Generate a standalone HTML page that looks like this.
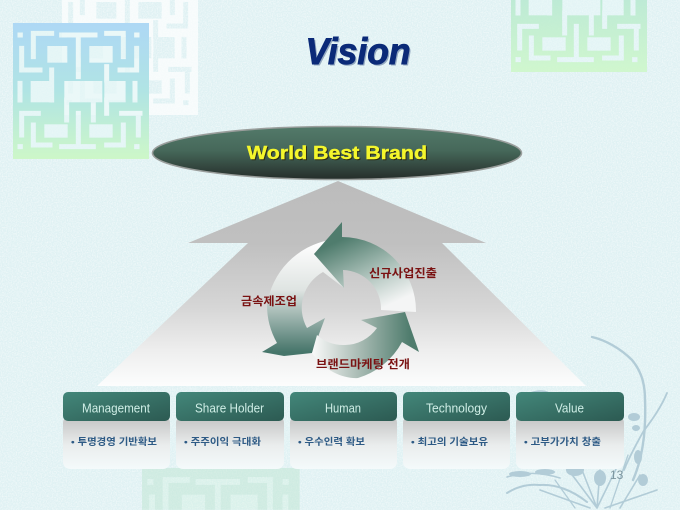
<!DOCTYPE html>
<html><head><meta charset="utf-8"><style>
html,body{margin:0;padding:0;width:680px;height:510px;overflow:hidden;background:#e2f3f5}
svg{display:block;overflow:hidden}
text{font-family:"Liberation Sans","Noto Sans CJK KR",sans-serif}
</style></head><body>
<svg width="680" height="510" viewBox="0 0 680 510" xmlns="http://www.w3.org/2000/svg">
<defs>
<filter id="noise" x="0" y="0" width="100%" height="100%"><feTurbulence type="fractalNoise" baseFrequency="0.8" numOctaves="2" seed="4"/><feColorMatrix values="0 0 0 0 1 0 0 0 0 1 0 0 0 0 1 2.4 0 0 0 -0.9"/></filter>
<g id="mazeLines" transform="translate(-3,-3) scale(.3333)">
<path fill="none" stroke="#000" stroke-width="15" stroke-linecap="square" d="M155 45H255M205 45V170M125 40H70V110M35 85V150H90M290 40H340V110M380 85V150H330M290 140V180M30 45h1M380 45h1M30 190V240M375 190V240M125 150V240M35 280H85M35 280V345M70 315V375H120M205 280V375M335 280H390M385 280V345M340 315V375H290M155 380H250M30 380h1M380 380h1M170 240V300M250 240V300M290 240V280"/>
<g fill="#000"><rect x="112" y="78" width="60" height="50"/><rect x="238" y="78" width="70" height="50"/><rect x="62" y="183" width="65" height="64"/><rect x="163" y="183" width="114" height="64"/><rect x="283" y="183" width="64" height="64"/><rect x="103" y="313" width="70" height="40"/><rect x="238" y="313" width="70" height="40"/></g>
</g>
<mask id="mz" maskUnits="userSpaceOnUse" x="0" y="0" width="136" height="136"><rect width="136" height="136" fill="#fff"/><use href="#mazeLines"/></mask>
<linearGradient id="mzc" x1="0" y1="0" x2="0" y2="1"><stop offset="0" stop-color="#aed8f5"/><stop offset=".5" stop-color="#b0e4e4"/><stop offset="1" stop-color="#cdf7c8"/></linearGradient>
<linearGradient id="mzg" x1="0" y1="0" x2="0" y2="1"><stop offset="0" stop-color="#a4dcd8"/><stop offset="1" stop-color="#cdf8c8"/></linearGradient>
<linearGradient id="ell" x1="0" y1="0" x2="0" y2="1"><stop offset="0" stop-color="#537a6a"/><stop offset=".45" stop-color="#46685a"/><stop offset="1" stop-color="#252d2a"/></linearGradient>
<linearGradient id="big" gradientUnits="userSpaceOnUse" x1="0" y1="181" x2="0" y2="388"><stop offset="0" stop-color="#bcbcbc"/><stop offset=".3" stop-color="#c0c0c0"/><stop offset=".61" stop-color="#d6d6d6"/><stop offset=".82" stop-color="#eeeeee"/><stop offset="1" stop-color="#fdfefe"/></linearGradient>
<linearGradient id="a1" gradientUnits="userSpaceOnUse" x1="345" y1="238" x2="378" y2="310"><stop offset="0" stop-color="#4f7c6d"/><stop offset=".5" stop-color="#a5bcb4"/><stop offset="1" stop-color="#f4f5f5"/></linearGradient>
<linearGradient id="a2" gradientUnits="userSpaceOnUse" x1="0" y1="245" x2="0" y2="352"><stop offset="0" stop-color="#fdfdfd"/><stop offset=".42" stop-color="#dfe4e2"/><stop offset="1" stop-color="#46756a"/></linearGradient>
<linearGradient id="a3" gradientUnits="userSpaceOnUse" x1="312" y1="0" x2="410" y2="0"><stop offset="0" stop-color="#fafafa"/><stop offset=".45" stop-color="#aebfb8"/><stop offset="1" stop-color="#4f7c6d"/></linearGradient>
<linearGradient id="hd" x1="0" y1="0" x2="1" y2="1"><stop offset="0" stop-color="#43877a"/><stop offset="1" stop-color="#2c5a52"/></linearGradient>
<linearGradient id="bd" x1="0" y1="0" x2="0" y2="1"><stop offset="0" stop-color="#c2c2c2"/><stop offset=".55" stop-color="#eaeded"/><stop offset="1" stop-color="#f4fafb"/></linearGradient>
</defs>

<rect width="680" height="510" fill="#dff1f3"/>
<rect width="680" height="510" filter="url(#noise)" opacity=".5"/>

<!-- background mazes -->
<g transform="translate(62,-21)" opacity=".72"><rect width="136" height="136" fill="#fff" mask="url(#mz)"/></g>
<g transform="translate(13,23)"><rect width="136" height="136" fill="#e6f6f6" opacity=".7"/><rect width="136" height="136" fill="url(#mzc)" mask="url(#mz)"/></g>
<g transform="translate(511,-64)" opacity=".85"><rect width="136" height="136" fill="#e6f6f6" opacity=".6"/><rect width="136" height="136" fill="url(#mzg)" mask="url(#mz)"/></g>
<g transform="translate(142,468) scale(1.16,1.16)" opacity=".5"><rect width="136" height="36" fill="#cdf0d8" opacity=".6"/><rect width="136" height="36" fill="#bfe6d2" mask="url(#mz)"/></g>

<!-- plant -->
<g fill="none" stroke="#b2ccd7" stroke-linecap="round">
<path d="M592 337C605 340 620 348 632 360C642 372 645 385 645 400C646 425 644 455 633 480" stroke-width="2.4"/>
<path d="M667 393C660 410 648 425 643 432C636 445 630 455 624 470" stroke-width="1.8"/>
<path d="M507 493C518 486 530 484 540 485C555 484 572 490 587 502" stroke-width="2"/>
<path d="M507 477C525 472 540 472 560 478" stroke-width="1.6"/>
<path d="M597 508L570 472M597 508L582 470M597 508L600 470M597 508L618 465M605 508L657 490M590 508L540 490M620 508L640 475M530 393C540 390 548 390 552 396" stroke-width="1.6"/>
<path d="M610 508L628 455M575 508L555 480" stroke-width="1.3"/>
</g>
<g fill="#b2ccd7">
<ellipse cx="634" cy="417" rx="6" ry="4"/><ellipse cx="638" cy="457" rx="4" ry="7"/><ellipse cx="643" cy="480" rx="5" ry="6"/><ellipse cx="636" cy="428" rx="4" ry="3"/><ellipse cx="520" cy="474" rx="11" ry="3"/><ellipse cx="545" cy="472" rx="10" ry="3"/><ellipse cx="575" cy="470" rx="9" ry="6"/><ellipse cx="600" cy="478" rx="6" ry="8"/>
</g>

<!-- big up arrow -->
<path d="M338 181L486 243H442L586 386H97L248 243H188Z" fill="url(#big)"/>

<!-- title -->
<text x="358" y="64" text-anchor="middle" font-size="37" font-weight="700" font-style="italic" fill="#93a8c0" textLength="105" lengthAdjust="spacingAndGlyphs" transform="translate(1.5,1.5)">Vision</text>
<text x="358" y="64" text-anchor="middle" font-size="37" font-weight="700" font-style="italic" fill="#0b2a78" stroke="#0b2a78" stroke-width=".9" textLength="105" lengthAdjust="spacingAndGlyphs">Vision</text>

<!-- ellipse -->
<ellipse cx="337" cy="153" rx="184.5" ry="26.5" fill="url(#ell)" stroke="#9a9e9c" stroke-width="1.6"/>
<text x="337" y="159" text-anchor="middle" font-size="18" font-weight="700" fill="#2c2c18" stroke="#2c2c18" stroke-width=".4" textLength="180" lengthAdjust="spacingAndGlyphs" transform="translate(1,1)">World Best Brand</text>
<text x="337" y="159" text-anchor="middle" font-size="18" font-weight="700" fill="#f4f62c" stroke="#f4f62c" stroke-width=".4" textLength="180" lengthAdjust="spacingAndGlyphs">World Best Brand</text>

<!-- cycle -->
<path d="M330 240A77 77 0 0 0 267 305A77 77 0 0 0 277 343L262 352L284 356L312 353L325 318L307 328A41 41 0 0 1 323 272L344 288L314 254Z" fill="url(#a2)"/>
<path d="M342 222L314 254L344 288L343 270A39 39 0 0 1 381 310L416 312A74 74 0 0 0 342 237Z" fill="url(#a1)"/>
<path d="M312 353C325 372 345 379 358 378A74 74 0 0 0 402 342L419 352L405 312L361 320L377 328A40 40 0 0 1 345 345A40 40 0 0 1 317 335Z" fill="url(#a3)"/>

<g font-size="11.5" font-weight="700" fill="#7a1212">
<text x="369" y="277" textLength="68" lengthAdjust="spacingAndGlyphs">신규사업진출</text>
<text x="241" y="305" textLength="56" lengthAdjust="spacingAndGlyphs">금속제조업</text>
<text x="316" y="368" textLength="94" lengthAdjust="spacingAndGlyphs">브랜드마케팅 전개</text>
</g>

<!-- cards -->
<g>
<rect x="63" y="416" width="107" height="53" rx="7" fill="url(#bd)"/><rect x="63" y="392" width="107" height="29" rx="5" fill="url(#hd)"/>
<rect x="176" y="416" width="108" height="53" rx="7" fill="url(#bd)"/><rect x="176" y="392" width="108" height="29" rx="5" fill="url(#hd)"/>
<rect x="290" y="416" width="107" height="53" rx="7" fill="url(#bd)"/><rect x="290" y="392" width="107" height="29" rx="5" fill="url(#hd)"/>
<rect x="403" y="416" width="107" height="53" rx="7" fill="url(#bd)"/><rect x="403" y="392" width="107" height="29" rx="5" fill="url(#hd)"/>
<rect x="516" y="416" width="108" height="53" rx="7" fill="url(#bd)"/><rect x="516" y="392" width="108" height="29" rx="5" fill="url(#hd)"/>
</g>
<g font-size="13" fill="#cfeee6">
<text x="82" y="412.5" textLength="68" lengthAdjust="spacingAndGlyphs">Management</text>
<text x="195" y="412.5" textLength="69" lengthAdjust="spacingAndGlyphs">Share Holder</text>
<text x="325" y="412.5" textLength="36" lengthAdjust="spacingAndGlyphs">Human</text>
<text x="426" y="412.5" textLength="61" lengthAdjust="spacingAndGlyphs">Technology</text>
<text x="555" y="412.5" textLength="29" lengthAdjust="spacingAndGlyphs">Value</text>
</g>
<g font-size="9.5" font-weight="700" fill="#2d5a85">
<text x="71" y="445" textLength="86" lengthAdjust="spacingAndGlyphs">• 투명경영 기반확보</text>
<text x="184" y="445" textLength="77" lengthAdjust="spacingAndGlyphs">• 주주이익 극대화</text>
<text x="298" y="445" textLength="67" lengthAdjust="spacingAndGlyphs">• 우수인력 확보</text>
<text x="411" y="445" textLength="77" lengthAdjust="spacingAndGlyphs">• 최고의 기술보유</text>
<text x="524" y="445" textLength="77" lengthAdjust="spacingAndGlyphs">• 고부가가치 창출</text>
</g>
<text x="610" y="479" font-size="12" fill="#7f98a0">13</text>
</svg>
</body></html>
